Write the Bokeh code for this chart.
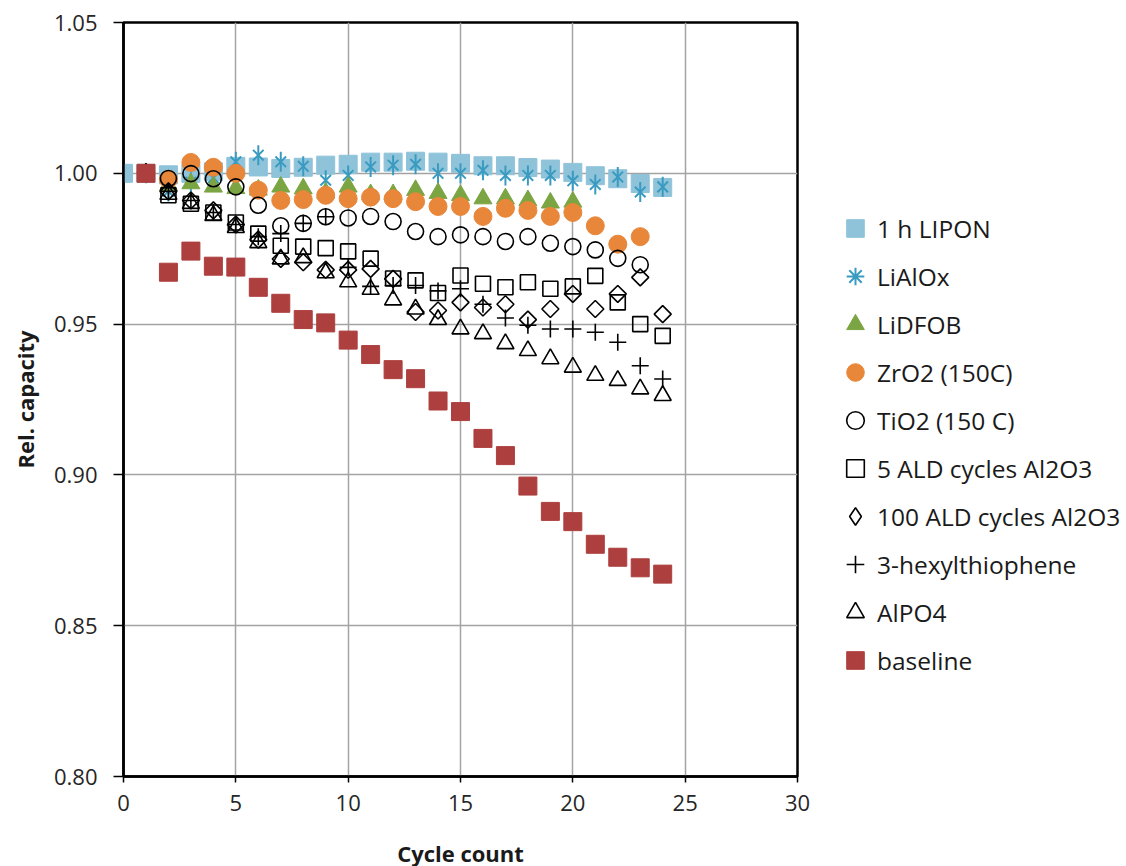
from bokeh.plotting import figure
from bokeh.models import Range1d, FixedTicker, NumeralTickFormatter, Legend, LegendItem
from bokeh.embed import file_html
from bokeh.resources import INLINE
import math

# ---------------- data ----------------
x_ticks = [0, 5, 10, 15, 20, 25, 30]
y_ticks = [0.80, 0.85, 0.90, 0.95, 1.00, 1.05]

cycles_lipon = list(range(0, 25))
lipon = [1.000, 1.000, 0.9995, 1.000, 1.0005, 1.0023, 1.0021, 1.0016, 1.0020, 1.0027,
         1.0030, 1.0037, 1.0037, 1.0040, 1.0037, 1.0033, 1.0025, 1.0025, 1.0019, 1.0014,
         1.0003, 0.9992, 0.9982, 0.9966, 0.9953]

cycles_24 = list(range(1, 25))
cycles_23 = list(range(1, 24))
cycles_20 = list(range(1, 21))

lialox = [1.000, 0.9940, 0.9970, 0.9985, 1.0038, 1.0060, 1.0038, 1.0023, 0.9977, 0.9993,
          1.0021, 1.0027, 1.0030, 1.0000, 1.0000, 1.0010, 0.9993, 0.9993, 0.9993, 0.9975,
          0.9963, 0.9988, 0.9938, 0.9955]

lidfob = [1.000, 0.9960, 0.9966, 0.9955, 0.9950, 0.9945, 0.9955, 0.9949, 0.9935, 0.9955,
          0.9930, 0.9930, 0.9944, 0.9934, 0.9927, 0.9916, 0.9916, 0.9910, 0.9902, 0.9905]

zro2 = [1.000, 0.9980, 1.0036, 1.0020, 1.0000, 0.9944, 0.9910, 0.9913, 0.9927, 0.9916,
        0.9921, 0.9916, 0.9906, 0.9890, 0.9890, 0.9857, 0.9884, 0.9877, 0.9857, 0.9870,
        0.9826, 0.9765, 0.9790]

tio2 = [1.000, 0.9983, 0.9999, 0.9982, 0.9955, 0.9894, 0.9826, 0.9834, 0.9856, 0.9852,
        0.9857, 0.9840, 0.9807, 0.9790, 0.9796, 0.9790, 0.9774, 0.9790, 0.9768, 0.9757,
        0.9746, 0.9718, 0.9697]

ald5 = [1.000, 0.9927, 0.9899, 0.9870, 0.9837, 0.9800, 0.9760, 0.9757, 0.9752, 0.9741,
        0.9717, 0.9651, 0.9645, 0.9603, 0.9661, 0.9634, 0.9622, 0.9639, 0.9617, 0.9625,
        0.9660, 0.9572, 0.9500, 0.9461]

ald100 = [1.000, 0.9940, 0.9910, 0.9877, 0.9830, 0.9780, 0.9716, 0.9705, 0.9680, 0.9680,
          0.9683, 0.9650, 0.9540, 0.9545, 0.9572, 0.9555, 0.9566, 0.9515, 0.9550, 0.9600,
          0.9550, 0.9600, 0.9655, 0.9533]

hexyl = [1.000, 0.9940, 0.9910, 0.9870, 0.9830, 0.9790, 0.9800, 0.9834, 0.9856, 0.9688,
         0.9625, 0.9628, 0.9628, 0.9610, 0.9617, 0.9566, 0.9520, 0.9496, 0.9484, 0.9484,
         0.9473, 0.9440, 0.9362, 0.9318]

alpo4 = [1.000, 0.9930, 0.9900, 0.9860, 0.9820, 0.9770, 0.9716, 0.9720, 0.9670, 0.9640,
         0.9615, 0.9580, 0.9550, 0.9515, 0.9484, 0.9468, 0.9435, 0.9412, 0.9385, 0.9357,
         0.9330, 0.9313, 0.9285, 0.9263]

baseline = [1.000, 0.9672, 0.9742, 0.9692, 0.9689, 0.9622, 0.9569, 0.9515, 0.9504, 0.9447,
            0.9399, 0.9349, 0.9319, 0.9245, 0.9210, 0.9121, 0.9064, 0.8963, 0.8879, 0.8845,
            0.8770, 0.8727, 0.8692, 0.8671]

labels = ["1 h LIPON", "LiAlOx", "LiDFOB", "ZrO2 (150C)", "TiO2 (150 C)",
          "5 ALD cycles Al2O3", "100 ALD cycles Al2O3", "3-hexylthiophene", "AlPO4", "baseline"]

# ---------------- figure ----------------
FONT = "Open Sans"
p = figure(frame_width=674, frame_height=754,
           x_range=Range1d(0, 30), y_range=Range1d(0.80, 1.05),
           output_backend="svg", toolbar_location=None,
           min_border_left=123, min_border_top=22, min_border_bottom=82, min_border_right=310,
           background_fill_color="white", border_fill_color="white")

p.outline_line_color = "black"
p.outline_line_width = 2.5

for ax in (p.xaxis[0], p.yaxis[0]):
    ax.axis_line_color = "black"
    ax.axis_line_width = 2.5
    ax.major_tick_line_color = "black"
    ax.major_tick_line_width = 1.5
    ax.major_tick_in = 0
    ax.minor_tick_line_color = None
    ax.major_label_text_font = FONT
    ax.major_label_text_font_size = "22px"
    ax.major_label_text_color = "#262626"
    ax.axis_label_text_font = FONT
    ax.axis_label_text_font_size = "22px"
    ax.axis_label_text_font_style = "bold"
    ax.axis_label_text_color = "#1a1a1a"

p.xaxis.ticker = FixedTicker(ticks=x_ticks)
p.yaxis.ticker = FixedTicker(ticks=y_ticks)
p.yaxis.formatter = NumeralTickFormatter(format="0.00")
p.xaxis.axis_label = "Cycle count"
p.yaxis.axis_label = "Rel. capacity"
p.xaxis.major_tick_out = 6
p.yaxis.major_tick_out = 10
p.xaxis.major_label_standoff = 12
p.yaxis.major_label_standoff = 16
p.xaxis.axis_label_standoff = 24
p.yaxis.axis_label_standoff = 11

for g in (p.xgrid[0], p.ygrid[0]):
    g.grid_line_color = "#a3a3a3"
    g.grid_line_width = 1.5

C_LIPON = "#8ec3da"
C_LIALOX = "#3a9bc1"
C_LIDFOB = "#7ba543"
C_ZRO2 = "#e8873a"
C_BASE = "#ad3f3e"

items = []

r = p.scatter(cycles_lipon, lipon, marker="square", size=18, fill_color=C_LIPON, line_color=C_LIPON)
items.append(LegendItem(label=labels[0], renderers=[r]))

r1 = p.scatter(cycles_24, lialox, marker="x", size=15, line_color=C_LIALOX, line_width=2)
r2 = p.scatter(cycles_24, lialox, marker="dash", size=20, angle=math.pi / 2, line_color=C_LIALOX, line_width=2)
r_leg = p.scatter(cycles_24, lialox, marker="asterisk", size=18, line_color=C_LIALOX, line_width=2, visible=False)
items.append(LegendItem(label=labels[1], renderers=[r_leg]))

r = p.scatter(cycles_20, lidfob, marker="triangle", size=18, fill_color=C_LIDFOB, line_color=C_LIDFOB)
items.append(LegendItem(label=labels[2], renderers=[r]))

r = p.scatter(cycles_23, zro2, marker="circle", size=18, fill_color=C_ZRO2, line_color=C_ZRO2)
items.append(LegendItem(label=labels[3], renderers=[r]))

r = p.scatter(cycles_23, tio2, marker="circle", size=16, fill_color=None, line_color="black", line_width=1.6)
items.append(LegendItem(label=labels[4], renderers=[r]))

r = p.scatter(cycles_24, ald5, marker="square", size=15, fill_color=None, line_color="black", line_width=1.6)
items.append(LegendItem(label=labels[5], renderers=[r]))

r = p.scatter(cycles_24, ald100, marker="square", size=12, angle=math.pi / 4, fill_color=None, line_color="black", line_width=1.6)
r_leg = p.scatter(cycles_24, ald100, marker="diamond", size=17, fill_color=None, line_color="black", line_width=1.6, visible=False)
items.append(LegendItem(label=labels[6], renderers=[r_leg]))

r = p.scatter(cycles_24, hexyl, marker="cross", size=17, line_color="black", line_width=1.6)
items.append(LegendItem(label=labels[7], renderers=[r]))

r = p.scatter(cycles_24, alpo4, marker="triangle", size=17, fill_color=None, line_color="black", line_width=1.6)
items.append(LegendItem(label=labels[8], renderers=[r]))

r = p.scatter(cycles_24, baseline, marker="square", size=18, fill_color=C_BASE, line_color=C_BASE)
items.append(LegendItem(label=labels[9], renderers=[r]))

legend = Legend(items=items, location=(36, 94), orientation="vertical")
legend.border_line_color = None
legend.background_fill_alpha = 0
legend.inactive_fill_alpha = 0
legend.padding = 0
legend.margin = 0
legend.glyph_width = 44
legend.glyph_height = 44
legend.label_standoff = 0
legend.spacing = 4
legend.label_text_font = FONT
legend.label_text_font_size = "24.5px"
legend.label_text_color = "#1a1a1a"
legend.label_height = 44
p.add_layout(legend, "right")

open("out.html", "w").write(file_html(p, INLINE))
